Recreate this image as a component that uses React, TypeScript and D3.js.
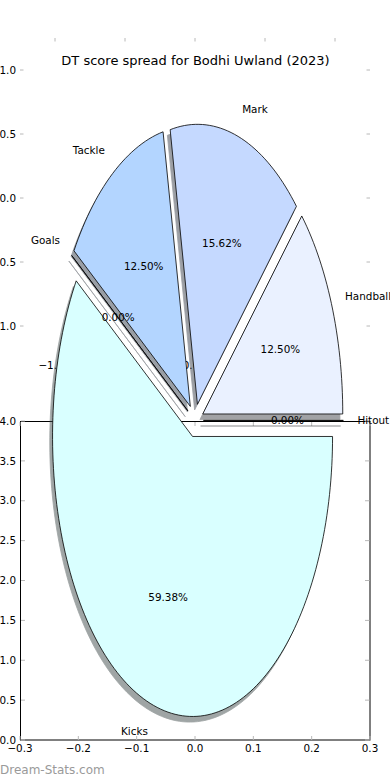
import * as d3 from "d3";

// slices in drawing order (counter-clockwise from 3 o'clock)
const sliceLabels = ["Hitout", "Handball", "Mark", "Tackle", "Goals", "Kicks"];
const slicePercents = [0, 12.5, 15.62, 12.5, 0, 59.38];
const sliceColors = ["#f0f6ff", "#eaf1ff", "#c5d9ff", "#b3d5ff", "#cfe2ff", "#d9ffff"];

const titleText = "DT score spread for Bodhi Uwland (2023)";
const watermark = "Dream-Stats.com";

// background (pie) axes ticks
const pieTicksX = [-1, -0.5, 0, 0.5, 1];
const pieTicksY = [-1, -0.5, 0, 0.5, 1];

// lower axes ticks
const lowTicksX = [-0.3, -0.2, -0.1, 0, 0.1, 0.2, 0.3];
const lowTicksY = [0, 0.5, 1, 1.5, 2, 2.5, 3, 3.5, 4];

const W = 390;
const H = 780;
const FONT = "DejaVu Sans, Verdana, sans-serif";
const FS = 10.4;
const EXPLODE = 0.06;
const TICK = "#b8b8b8";

const fmt = (f: string) => (v: number) => d3.format(f)(v).replace("-", "\u2212");

export default function App() {
  // upper axes: the pie lives here (x shared, y stretched)
  const axX = d3.scaleLinear().domain([-1.25, 1.25]).range([20, 370]);
  const axY = d3.scaleLinear().domain([-1.25, 1.25]).range([358, 38]);
  const pieY = d3.scaleLinear().domain([-1, 1]).range([700.4, 140.4]);

  // lower axes
  const lx = d3.scaleLinear().domain([-0.3, 0.3]).range([20, 370]);
  const ly = d3.scaleLinear().domain([0, 4]).range([740, 421]);

  const arcs = d3.pie<number>().sort(null).value((d) => d)(slicePercents);

  const line = d3
    .line<[number, number]>()
    .x((d) => axX(d[0]))
    .y((d) => pieY(d[1]));

  const wedges = arcs.map((a, i) => {
    const t0 = a.startAngle;
    const t1 = a.endAngle;
    const tm = (t0 + t1) / 2;
    const cx = EXPLODE * Math.cos(tm);
    const cy = EXPLODE * Math.sin(tm);
    const pts: [number, number][] = [[cx, cy]];
    const n = Math.max(2, Math.ceil(((t1 - t0) / (Math.PI * 2)) * 240));
    for (let k = 0; k <= n; k++) {
      const t = t0 + ((t1 - t0) * k) / n;
      pts.push([cx + Math.cos(t), cy + Math.sin(t)]);
    }
    return {
      d: line(pts) + "Z",
      label: sliceLabels[i],
      color: sliceColors[i],
      pct: d3.format(".2f")(a.data) + "%",
      lx: axX(cx + 1.1 * Math.cos(tm)),
      ly: pieY(cy + 1.1 * Math.sin(tm)),
      anchor: Math.cos(tm) > 0 ? "start" : "end",
      px: axX(cx + 0.6 * Math.cos(tm)),
      py: pieY(cy + 0.6 * Math.sin(tm)),
    };
  });

  const shX = axX(-0.02) - axX(0);
  const shY = pieY(-0.02) - pieY(0);
  const shade = (c: string) => {
    const r = d3.rgb(c);
    return d3.rgb(r.r * 0.3, r.g * 0.3, r.b * 0.3).formatHex();
  };

  return (
    <svg
      width={W}
      height={H}
      style={{ position: "absolute", left: 0, top: 0, background: "#fff" }}
      fontFamily={FONT}
    >
      {/* upper axes ticks + labels */}
      <g stroke={TICK}>
        {pieTicksX.map((v) => (
          <line key={"tx" + v} x1={axX(v)} x2={axX(v)} y1={38} y2={41.5} />
        ))}
        {pieTicksY.map((v) => (
          <g key={"ty" + v}>
            <line x1={20} x2={23.5} y1={axY(v)} y2={axY(v)} />
            <line x1={366.5} x2={370} y1={axY(v)} y2={axY(v)} />
          </g>
        ))}
      </g>
      <g fontSize={FS} fill="#000">
        {pieTicksX.map((v) => (
          <text key={"lx" + v} x={axX(v) - 4} y={365} dy="0.35em" textAnchor="middle">
            {fmt(".1f")(v)}
          </text>
        ))}
        {pieTicksY.map((v) => (
          <text key={"ly" + v} x={16} y={axY(v)} dy="0.35em" textAnchor="end">
            {fmt(".1f")(v)}
          </text>
        ))}
      </g>

      {/* lower axes */}
      <rect x={20.5} y={421.5} width={349.5} height={318.5} fill="none" stroke="#000" strokeWidth={1} />
      <g stroke={TICK}>
        {lowTicksX.map((v) => (
          <g key={"lt" + v}>
            <line x1={lx(v)} x2={lx(v)} y1={740} y2={736} />
            <line x1={lx(v)} x2={lx(v)} y1={422} y2={426} />
          </g>
        ))}
        {lowTicksY.map((v) => (
          <g key={"lyt" + v}>
            <line x1={21} x2={25} y1={ly(v)} y2={ly(v)} />
            <line x1={365} x2={369.5} y1={ly(v)} y2={ly(v)} />
          </g>
        ))}
      </g>

      {/* pie: shadows first, then wedges */}
      <g transform={`translate(${shX},${shY})`}>
        {wedges.map((w) => (
          <path
            key={"s" + w.label}
            d={w.d}
            fill={shade(w.color)}
            stroke={shade(w.color)}
            strokeWidth={0.8}
            opacity={0.5}
          />
        ))}
      </g>
      {wedges.map((w) => (
        <path key={"w" + w.label} d={w.d} fill={w.color} stroke="#000" strokeWidth={0.8} strokeLinejoin="miter" />
      ))}

      <g fontSize={FS} fill="#000">
        {wedges.map((w) => (
          <text key={"l" + w.label} x={w.lx} y={w.ly} dy="0.35em" textAnchor={w.anchor}>
            {w.label}
          </text>
        ))}
        {wedges.map((w) => (
          <text key={"p" + w.label} x={w.px} y={w.py} dy="0.35em" textAnchor="middle">
            {w.pct}
          </text>
        ))}
      </g>

      <g fontSize={FS} fill="#000">
        {lowTicksX.map((v) => (
          <text key={"bx" + v} x={lx(v)} y={748} dy="0.35em" textAnchor="middle">
            {fmt(".1f")(v)}
          </text>
        ))}
        {lowTicksY.map((v) => (
          <text key={"by" + v} x={16} y={ly(v)} dy="0.35em" textAnchor="end">
            {fmt(".1f")(v)}
          </text>
        ))}
      </g>

      <text x={195.5} y={65} fontSize={13} textAnchor="middle" fill="#000">
        {titleText}
      </text>
      <text x={0} y={774} fontSize={12} fill="#9a9a9a">
        {watermark}
      </text>
    </svg>
  );
}
